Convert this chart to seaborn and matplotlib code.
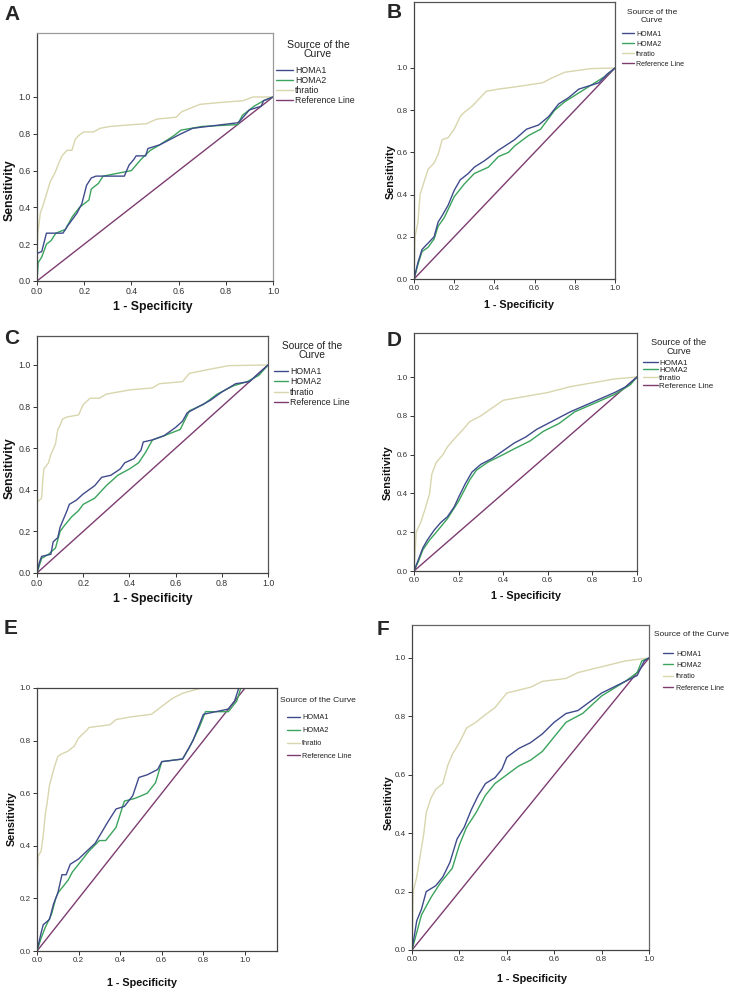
import matplotlib
matplotlib.use("Agg")
import matplotlib.pyplot as plt
from matplotlib.lines import Line2D
import seaborn as sns
import pandas as pd

# ---------------- data (1 - specificity, sensitivity) ----------------
CURVES = ["HOMA1", "HOMA2", "thratio", "Reference Line"]
REF = [(0, 0), (1, 1)]

A_HOMA1 = [(0, 0), (0, 0.15), (0.02, 0.16), (0.04, 0.26), (0.11, 0.26), (0.13, 0.30), (0.17, 0.37),
           (0.19, 0.42), (0.20, 0.47), (0.21, 0.52), (0.23, 0.56), (0.25, 0.57), (0.37, 0.57),
           (0.39, 0.63), (0.41, 0.66), (0.42, 0.68), (0.46, 0.68), (0.47, 0.72), (0.52, 0.74),
           (0.58, 0.78), (0.61, 0.80), (0.66, 0.83), (0.85, 0.86), (0.86, 0.87), (0.90, 0.93),
           (0.95, 0.95), (0.96, 0.98), (1, 1)]
A_HOMA2 = [(0, 0), (0.005, 0.10), (0.02, 0.13), (0.04, 0.20), (0.06, 0.22), (0.08, 0.26), (0.12, 0.28),
           (0.15, 0.35), (0.18, 0.40), (0.22, 0.44), (0.23, 0.50), (0.26, 0.53), (0.28, 0.57),
           (0.40, 0.60), (0.44, 0.66), (0.48, 0.71), (0.52, 0.74), (0.58, 0.79), (0.61, 0.82),
           (0.70, 0.84), (0.85, 0.85), (0.87, 0.90), (0.92, 0.95), (0.96, 0.98), (1, 1)]
A_THRATIO = [(0, 0), (0, 0.15), (0.004, 0.26), (0.014, 0.37), (0.028, 0.42), (0.042, 0.48),
             (0.056, 0.54), (0.077, 0.59), (0.092, 0.64), (0.106, 0.68), (0.127, 0.71), (0.148, 0.71),
             (0.162, 0.77), (0.176, 0.79), (0.197, 0.81), (0.239, 0.81), (0.268, 0.83), (0.31, 0.84),
             (0.408, 0.85), (0.465, 0.855), (0.507, 0.88), (0.59, 0.89), (0.613, 0.92), (0.69, 0.96),
             (0.775, 0.97), (0.873, 0.98), (0.915, 1.0), (1, 1)]

B_HOMA1 = [(0, 0), (0.02, 0.08), (0.04, 0.14), (0.07, 0.17), (0.10, 0.20), (0.12, 0.27), (0.14, 0.30),
           (0.17, 0.35), (0.20, 0.42), (0.23, 0.47), (0.27, 0.50), (0.30, 0.53), (0.35, 0.56),
           (0.42, 0.61), (0.50, 0.66), (0.56, 0.71), (0.62, 0.73), (0.67, 0.77), (0.72, 0.83),
           (0.77, 0.86), (0.82, 0.90), (0.92, 0.93), (0.96, 0.97), (1, 1)]
B_HOMA2 = [(0, 0), (0.02, 0.07), (0.04, 0.13), (0.07, 0.15), (0.10, 0.19), (0.12, 0.25), (0.15, 0.29),
           (0.20, 0.39), (0.25, 0.45), (0.30, 0.50), (0.37, 0.53), (0.42, 0.58), (0.47, 0.60),
           (0.50, 0.63), (0.57, 0.68), (0.63, 0.71), (0.70, 0.80), (0.75, 0.84), (0.85, 0.90),
           (0.90, 0.93), (0.95, 0.96), (1, 1)]
B_THRATIO = [(0, 0), (0.005, 0.20), (0.02, 0.27), (0.03, 0.40), (0.05, 0.46), (0.07, 0.52),
             (0.10, 0.55), (0.12, 0.59), (0.14, 0.66), (0.17, 0.67), (0.20, 0.71), (0.23, 0.77),
             (0.25, 0.79), (0.29, 0.82), (0.33, 0.86), (0.36, 0.89), (0.42, 0.90), (0.50, 0.91),
             (0.64, 0.93), (0.68, 0.95), (0.75, 0.98), (0.88, 0.997), (1, 1)]

C_HOMA1 = [(0, 0), (0.01, 0.05), (0.02, 0.08), (0.06, 0.09), (0.07, 0.15), (0.09, 0.17), (0.10, 0.22),
           (0.13, 0.30), (0.14, 0.33), (0.17, 0.35), (0.20, 0.38), (0.25, 0.42), (0.28, 0.46),
           (0.32, 0.47), (0.36, 0.50), (0.38, 0.53), (0.42, 0.55), (0.45, 0.59), (0.46, 0.63),
           (0.50, 0.64), (0.55, 0.66), (0.60, 0.70), (0.63, 0.73), (0.65, 0.77), (0.70, 0.80),
           (0.75, 0.83), (0.80, 0.87), (0.86, 0.91), (0.92, 0.92), (0.96, 0.96), (1, 1)]
C_HOMA2 = [(0, 0), (0.02, 0.07), (0.05, 0.09), (0.08, 0.12), (0.10, 0.20), (0.12, 0.23), (0.15, 0.27),
           (0.18, 0.30), (0.20, 0.33), (0.25, 0.36), (0.30, 0.42), (0.35, 0.47), (0.40, 0.50),
           (0.44, 0.53), (0.47, 0.58), (0.50, 0.64), (0.55, 0.66), (0.62, 0.69), (0.66, 0.78),
           (0.72, 0.81), (0.78, 0.86), (0.85, 0.90), (0.91, 0.92), (0.96, 0.95), (1, 1)]
C_THRATIO = [(0, 0), (0, 0.34), (0.02, 0.36), (0.025, 0.45), (0.03, 0.50), (0.05, 0.53), (0.06, 0.57),
             (0.08, 0.62), (0.09, 0.69), (0.10, 0.71), (0.11, 0.74), (0.13, 0.75), (0.18, 0.76),
             (0.20, 0.81), (0.23, 0.84), (0.27, 0.84), (0.30, 0.86), (0.35, 0.87), (0.40, 0.88),
             (0.50, 0.89), (0.53, 0.91), (0.63, 0.92), (0.66, 0.96), (0.75, 0.98), (0.83, 0.997),
             (1, 1)]

D_HOMA1 = [(0, 0), (0.02, 0.06), (0.04, 0.12), (0.06, 0.16), (0.09, 0.21), (0.12, 0.25), (0.15, 0.28),
           (0.18, 0.33), (0.20, 0.38), (0.23, 0.45), (0.26, 0.51), (0.30, 0.55), (0.35, 0.58),
           (0.40, 0.62), (0.45, 0.66), (0.50, 0.69), (0.55, 0.73), (0.60, 0.76), (0.65, 0.79),
           (0.70, 0.82), (0.80, 0.87), (0.90, 0.92), (0.95, 0.95), (1, 1)]
D_HOMA2 = [(0, 0), (0.02, 0.05), (0.04, 0.11), (0.07, 0.16), (0.10, 0.20), (0.15, 0.27), (0.20, 0.36),
           (0.25, 0.47), (0.28, 0.52), (0.33, 0.56), (0.40, 0.60), (0.45, 0.63), (0.52, 0.67),
           (0.58, 0.72), (0.65, 0.76), (0.72, 0.82), (0.80, 0.86), (0.90, 0.91), (0.97, 0.96), (1, 1)]
D_THRATIO = [(0, 0), (0.005, 0.10), (0.01, 0.20), (0.03, 0.25), (0.05, 0.32), (0.07, 0.40),
             (0.08, 0.50), (0.10, 0.56), (0.13, 0.60), (0.15, 0.64), (0.18, 0.68), (0.22, 0.73),
             (0.25, 0.77), (0.30, 0.80), (0.35, 0.84), (0.40, 0.88), (0.50, 0.90), (0.60, 0.92),
             (0.70, 0.95), (0.80, 0.97), (0.90, 0.99), (1, 1)]

E_HOMA1 = [(0, 0), (0.02, 0.07), (0.03, 0.10), (0.06, 0.12), (0.08, 0.18), (0.10, 0.22), (0.12, 0.29),
           (0.14, 0.29), (0.16, 0.33), (0.20, 0.35), (0.24, 0.38), (0.28, 0.41), (0.31, 0.45),
           (0.34, 0.49), (0.38, 0.54), (0.42, 0.55), (0.46, 0.59), (0.49, 0.66), (0.53, 0.67),
           (0.58, 0.69), (0.60, 0.72), (0.70, 0.73), (0.75, 0.80), (0.78, 0.86), (0.80, 0.90),
           (0.92, 0.92), (0.95, 0.95), (0.97, 1.0), (1, 1)]
E_HOMA2 = [(0, 0), (0.02, 0.05), (0.04, 0.09), (0.07, 0.14), (0.09, 0.20), (0.10, 0.22), (0.13, 0.25),
           (0.15, 0.27), (0.17, 0.30), (0.20, 0.33), (0.25, 0.38), (0.30, 0.42), (0.33, 0.42),
           (0.38, 0.47), (0.40, 0.52), (0.42, 0.57), (0.47, 0.58), (0.53, 0.60), (0.57, 0.64),
           (0.60, 0.72), (0.70, 0.73), (0.73, 0.77), (0.78, 0.85), (0.81, 0.91), (0.92, 0.91),
           (0.96, 0.95), (0.98, 1.0), (1, 1)]
E_THRATIO = [(0, 0), (0, 0.25), (0.005, 0.36), (0.02, 0.38), (0.03, 0.44), (0.04, 0.52), (0.05, 0.57),
             (0.06, 0.63), (0.08, 0.69), (0.10, 0.74), (0.12, 0.75), (0.15, 0.76), (0.18, 0.78),
             (0.20, 0.81), (0.24, 0.84), (0.25, 0.85), (0.35, 0.86), (0.38, 0.88), (0.45, 0.89),
             (0.55, 0.90), (0.60, 0.93), (0.65, 0.96), (0.70, 0.98), (0.79, 1.0), (1, 1)]

F_HOMA1 = [(0, 0), (0.01, 0.05), (0.02, 0.10), (0.04, 0.14), (0.06, 0.20), (0.10, 0.22), (0.13, 0.25),
           (0.16, 0.30), (0.19, 0.38), (0.22, 0.42), (0.25, 0.48), (0.28, 0.53), (0.31, 0.57),
           (0.35, 0.59), (0.38, 0.62), (0.40, 0.66), (0.45, 0.69), (0.50, 0.71), (0.55, 0.74),
           (0.60, 0.78), (0.65, 0.81), (0.70, 0.82), (0.75, 0.85), (0.80, 0.88), (0.85, 0.90),
           (0.90, 0.92), (0.95, 0.94), (0.98, 0.99), (1, 1)]
F_HOMA2 = [(0, 0), (0.02, 0.06), (0.04, 0.12), (0.08, 0.18), (0.12, 0.23), (0.17, 0.28), (0.20, 0.36),
           (0.23, 0.42), (0.27, 0.47), (0.31, 0.53), (0.35, 0.57), (0.40, 0.60), (0.45, 0.63),
           (0.50, 0.65), (0.55, 0.68), (0.60, 0.73), (0.65, 0.78), (0.72, 0.81), (0.80, 0.87),
           (0.90, 0.92), (0.95, 0.95), (0.97, 0.99), (1, 1)]
F_THRATIO = [(0, 0), (0.005, 0.20), (0.02, 0.25), (0.03, 0.30), (0.05, 0.40), (0.06, 0.47),
             (0.08, 0.52), (0.10, 0.55), (0.13, 0.57), (0.15, 0.63), (0.17, 0.67), (0.20, 0.71),
             (0.23, 0.76), (0.27, 0.78), (0.30, 0.80), (0.35, 0.83), (0.38, 0.86), (0.40, 0.88),
             (0.45, 0.89), (0.50, 0.90), (0.55, 0.92), (0.65, 0.93), (0.70, 0.95), (0.80, 0.97),
             (0.90, 0.99), (1, 1)]

TICKS = [0.0, 0.2, 0.4, 0.6, 0.8, 1.0]
TICK_LABELS = ["0.0", "0.2", "0.4", "0.6", "0.8", "1.0"]
PANEL_LABELS = ["A", "B", "C", "D", "E", "F"]
LEGEND_TITLE_2 = "Source of the\nCurve"
LEGEND_TITLE_1 = "Source of the Curve"
PANEL_DATA = {
    "A": (A_HOMA1, A_HOMA2, A_THRATIO),
    "B": (B_HOMA1, B_HOMA2, B_THRATIO),
    "C": (C_HOMA1, C_HOMA2, C_THRATIO),
    "D": (D_HOMA1, D_HOMA2, D_THRATIO),
    "E": (E_HOMA1, E_HOMA2, E_THRATIO),
    "F": (F_HOMA1, F_HOMA2, F_THRATIO),
}

# ---------------- style / layout ----------------
COLORS = {"HOMA1": "#3f4b8c", "HOMA2": "#3aa35c", "thratio": "#d9d5ad", "Reference Line": "#7d3c70"}
FAM = ["Liberation Sans", "DejaVu Sans"]

W, H = 729, 992
# pixel boxes: left, top, right, bottom ; x1 = pixel of x=1.0 ; y1 = pixel of y=1.0
LAYOUT = {
    "A": dict(box=(37, 33, 273, 281), x1=273, y1=97, letter=(4, 5), ylab=(10, 190), xlab=(153, 307),
              spine="#9a9a9a", lab=8.8, tick=6.3,
              title=(318, 49.5, 7.6, 0.85, True), leg=(276, 65.6, 6.3, 0.14, 1.95, 0.23)),
    "B": dict(box=(414, 2, 615, 279), x1=615, y1=68, letter=(387, 3), ylab=(391, 172), xlab=(519, 305),
              spine="#555555", lab=7.8, tick=5.8,
              title=(652, 16.5, 6.0, 1.05, True), leg=(622, 30.5, 5.0, 0.44, 1.7, 0.3)),
    "C": dict(box=(37, 336, 268, 573), x1=268, y1=365, letter=(4, 329), ylab=(10, 468), xlab=(153, 599),
              spine="#555555", lab=8.8, tick=6.3,
              title=(312, 350.5, 7.3, 0.89, True), leg=(274, 366.6, 6.3, 0.18, 1.6, 0.23)),
    "D": dict(box=(414, 333, 637, 571), x1=637, y1=377, letter=(387, 331), ylab=(388, 473), xlab=(526, 596),
              spine="#555555", lab=7.8, tick=5.8,
              title=(679, 347, 6.7, 0.86, True), leg=(643, 359, 5.8, 0.0, 1.86, 0.15)),
    "E": dict(box=(37, 688, 277, 951), x1=245, y1=688, letter=(4, 619), ylab=(12, 819), xlab=(142, 983),
              spine="#444444", lab=7.8, tick=5.8,
              title=(318, 700, 6.1, 1.0, False), leg=(287, 714.3, 5.3, 0.77, 1.77, 0.27)),
    "F": dict(box=(412, 625, 649, 950), x1=649, y1=658, letter=(377, 620), ylab=(389, 803), xlab=(532, 979),
              spine="#666666", lab=7.8, tick=5.8,
              title=(692, 635, 6.0, 1.0, False), leg=(663, 650.5, 5.0, 0.63, 1.44, 0.43)),
}

sns.set_style("white")
plt.rcParams["font.family"] = FAM

fig = plt.figure(figsize=(W / 100, H / 100), dpi=100)
fig.patch.set_facecolor("white")

for name in PANEL_LABELS:
    lay = LAYOUT[name]
    l, t, r, b = lay["box"]
    ax = fig.add_axes([l / W, 1 - b / H, (r - l) / W, (b - t) / H])
    xmax = (r - l) / (lay["x1"] - l)
    ymax = (b - t) / (b - lay["y1"])

    h1, h2, th = PANEL_DATA[name]
    rows = []
    for cname, pts in (("Reference Line", REF), ("HOMA1", h1), ("HOMA2", h2), ("thratio", th)):
        for i, (x, y) in enumerate(pts):
            rows.append({"fpr": x, "tpr": y, "curve": cname, "order": i})
    df = pd.DataFrame(rows)
    for cname in ["Reference Line", "thratio", "HOMA2", "HOMA1"]:
        sub = df[df["curve"] == cname]
        sns.lineplot(data=sub, x="fpr", y="tpr", color=COLORS[cname], sort=False, estimator=None,
                     linewidth=1.0, ax=ax, legend=False)

    ax.set_xlim(0, xmax)
    ax.set_ylim(0, ymax)
    ax.set_xticks(TICKS)
    ax.set_xticklabels(TICK_LABELS)
    ax.set_yticks(TICKS)
    ax.set_yticklabels(TICK_LABELS)
    ax.tick_params(axis="both", which="major", direction="out", length=3, width=0.7,
                   labelsize=lay["tick"], colors="#333333", pad=1.5, bottom=True, left=True)
    for s in ax.spines.values():
        s.set_color(lay["spine"])
        s.set_linewidth(0.9)
    ax.spines["left"].set_color("#444444")
    ax.spines["bottom"].set_color("#444444")

    # axis labels
    ax.set_xlabel("1 - Specificity", fontsize=lay["lab"], fontweight="bold", color="#111111")
    ax.set_ylabel("Sensitivity", fontsize=lay["lab"], fontweight="bold", color="#111111")
    xl_x, xl_y = lay["xlab"]
    ax.xaxis.set_label_coords((xl_x - l) / (r - l), (b - xl_y) / (b - t))
    ax.xaxis.label.set_verticalalignment("center")
    yl_x, yl_y = lay["ylab"]
    ax.yaxis.set_label_coords((yl_x - l) / (r - l), (b - yl_y) / (b - t))
    ax.yaxis.label.set_verticalalignment("center")

    # panel letter
    lx, ly = lay["letter"]
    fig.text(lx / W, 1 - ly / H, name, fontsize=15, fontweight="bold", ha="left", va="top")

    # legend title (drawn as text so its gap to the entries matches)
    tx, ty, tfs, tls, two = lay["title"]
    fig.text(tx / W, 1 - ty / H, LEGEND_TITLE_2 if two else LEGEND_TITLE_1, fontsize=tfs,
             ha="center", va="center", multialignment="center", linespacing=tls, color="#222222")

    # legend entries
    gx, gy, lfs, lsp, hl, htp = lay["leg"]
    handles = [Line2D([], [], color=COLORS[c], lw=1.0) for c in CURVES]
    leg = fig.legend(handles, CURVES, loc="upper left", bbox_to_anchor=(gx / W, 1 - gy / H),
                     frameon=False, fontsize=lfs, handlelength=hl, handletextpad=htp,
                     labelspacing=lsp, borderpad=0, borderaxespad=0)
    for txt in leg.get_texts():
        txt.set_color("#222222")

fig.savefig("out.png", dpi=100, facecolor="white")
